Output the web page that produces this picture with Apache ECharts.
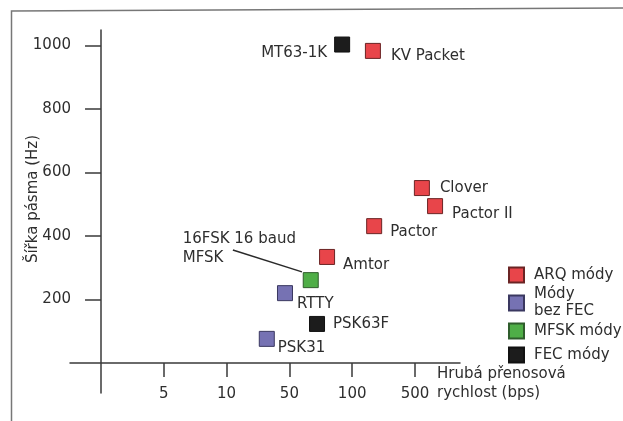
<!DOCTYPE html>
<html><head><meta charset="utf-8">
<script src="https://cdn.jsdelivr.net/npm/echarts@6/dist/echarts.min.js"></script>
<style>html,body{margin:0;padding:0;background:#fff}#c{width:623px;height:421px}</style>
</head><body><div id="c"></div>
<script>
// x values are positions on the drawn (compressed log) rate axis: tick 1="5", 2="10", 3="50", 4="100", 5="500"
const xTickPos = [1, 2, 3, 4, 5];
const xTickLabels = ['5', '10', '50', '100', '500'];
const yTicks = [200, 400, 600, 800, 1000];

const arqNames = ['KV Packet', 'Clover', 'Pactor II', 'Pactor', 'Amtor'];
const arqX = [4.33, 5.11, 5.32, 4.35, 3.60];
const arqY = [983, 551, 494, 431, 334];

const noFecNames = ['RTTY', 'PSK31'];
const noFecX = [2.93, 2.64];
const noFecY = [220, 76];

const mfskNames = ['16FSK 16 baud\nMFSK'];
const mfskX = [3.34];
const mfskY = [261];

const fecNames = ['MT63-1K', 'PSK63F'];
const fecX = [3.84, 3.44];
const fecY = [1003, 123];

const seriesNames = ['ARQ módy', 'Módy\nbez FEC', 'MFSK módy', 'FEC módy'];

const FONT = 'DejaVu Sans';
const TXT = '#2e2e2e';

// per-label placement (style only)
const labelPos = {
  'KV Packet': {position: 'right', distance: 10, offset: [0, 5]},
  'Clover': {position: 'right', distance: 10, offset: [0, 0]},
  'Pactor II': {position: 'right', distance: 9, offset: [0, 8]},
  'Pactor': {position: 'right', distance: 8, offset: [0, 6]},
  'Amtor': {position: 'right', distance: 8, offset: [0, 8]},
  'RTTY': {position: 'right', distance: 4, offset: [0, 11]},
  'PSK31': {position: 'right', distance: 3, offset: [0, 9]},
  'PSK63F': {position: 'right', distance: 8, offset: [0, 0]},
  'MT63-1K': {position: 'left', distance: 7, offset: [0, 9]},
  '16FSK 16 baud\nMFSK': {position: [-120, -43], align: 'left', verticalAlign: 'top', lineHeight: 19}
};

function pts(names, xs, ys) {
  return names.map((n, i) => ({
    name: n,
    value: [xs[i], ys[i]],
    label: Object.assign({show: true, formatter: n}, labelPos[n])
  }));
}

function mk(name, names, xs, ys, color, border) {
  return {
    name: name,
    type: 'scatter',
    symbol: 'rect',
    symbolSize: 15,
    itemStyle: {color: color, borderColor: border, borderWidth: 1, opacity: 1},
    label: {show: true, color: TXT, fontFamily: FONT, fontSize: 15},
    emphasis: {disabled: true},
    data: pts(names, xs, ys)
  };
}

const chart = echarts.init(document.getElementById('c'), null, {renderer: 'canvas'});
const mfskSeries = mk(seriesNames[2], mfskNames, mfskX, mfskY, '#4fae47', '#2f5d2c');
mfskSeries.markLine = {
  silent: true,
  symbol: 'none',
  label: {show: false},
  lineStyle: {color: '#2a2a2a', width: 1.5, type: 'solid'},
  data: [[{coord: [2.10, 356]}, {coord: [3.20, 287]}]]
};

chart.setOption({
  animation: false,
  backgroundColor: '#ffffff',
  textStyle: {fontFamily: FONT},
  grid: {left: 70, right: 163, top: 30, bottom: 28, containLabel: false, outerBoundsMode: 'none'},
  xAxis: {
    type: 'value',
    min: -0.494, max: 5.717,
    splitLine: {show: false},
    axisLine: {show: true, onZero: true, lineStyle: {color: '#3a3a3a', width: 1.5}},
    axisTick: {show: true, length: 14, customValues: xTickPos, lineStyle: {color: '#3a3a3a', width: 1.5}},
    axisLabel: {
      show: true, margin: -6, color: TXT, fontFamily: FONT, fontSize: 15,
      customValues: xTickPos,
      formatter: v => xTickLabels[xTickPos.indexOf(Math.round(v))] || ''
    }
  },
  yAxis: {
    type: 'value',
    min: -94.5, max: 1048.8,
    splitLine: {show: false},
    axisLine: {show: true, onZero: true, lineStyle: {color: '#3a3a3a', width: 1.5}},
    axisTick: {show: true, length: 16, customValues: yTicks, lineStyle: {color: '#3a3a3a', width: 1.5}},
    axisLabel: {show: true, margin: -1, color: TXT, fontFamily: FONT, fontSize: 15, customValues: yTicks,
      formatter: v => String(Math.round(v))}
  },
  legend: [{
    orient: 'vertical', left: 508, top: 266.5, padding: 0, itemWidth: 15, itemHeight: 15, itemGap: 2.5,
    icon: 'rect', selectedMode: false,
    textStyle: {color: TXT, fontFamily: FONT, fontSize: 15, lineHeight: 17, padding: [0, 0, 0, 5]},
    data: [seriesNames[0], seriesNames[1], seriesNames[2]]
  }, {
    orient: 'vertical', left: 508, top: 346.5, padding: 0, itemWidth: 15, itemHeight: 15,
    icon: 'rect', selectedMode: false,
    textStyle: {color: TXT, fontFamily: FONT, fontSize: 15, lineHeight: 17, padding: [0, 0, 0, 5]},
    data: [seriesNames[3]]
  }],
  graphic: [
    {type: 'polyline', silent: true, shape: {points: [[11.5, 421], [11.5, 11], [623, 8]]},
      style: {stroke: '#777', lineWidth: 1.5, fill: null}},
    {type: 'text', x: 33, y: 199, rotation: Math.PI / 2, silent: true,
      style: {text: 'Šířka pásma (Hz)', fill: TXT, font: '15px "DejaVu Sans"', align: 'center', verticalAlign: 'middle'}},
    {type: 'text', left: 437, top: 365, silent: true,
      style: {text: 'Hrubá přenosová\nrychlost (bps)', fill: TXT, font: '15px "DejaVu Sans"', lineHeight: 19}}
  ],
  series: [
    mk(seriesNames[0], arqNames, arqX, arqY, '#e8454a', '#6a2424'),
    mk(seriesNames[1], noFecNames, noFecX, noFecY, '#7672b3', '#3a3860'),
    mfskSeries,
    mk(seriesNames[3], fecNames, fecX, fecY, '#1c1c1c', '#111111')
  ]
});
</script>
</body></html>
